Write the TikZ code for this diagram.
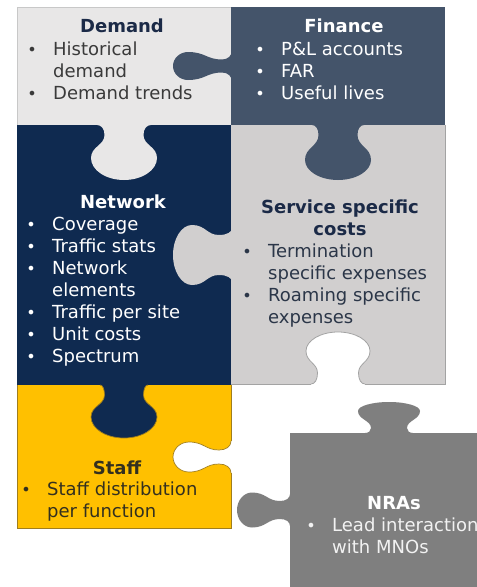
\documentclass[tikz,border=0pt]{standalone}
\usepackage{fontspec}
\setmainfont{DejaVu Sans}
\definecolor{demandc}{HTML}{E8E7E7}
\definecolor{financec}{HTML}{44546A}
\definecolor{networkc}{HTML}{0F2A50}
\definecolor{servicec}{HTML}{D1CFCF}
\definecolor{staffc}{HTML}{FFC000}
\definecolor{nrac}{HTML}{7F7F7F}
\definecolor{navytxt}{HTML}{1B2A47}
\definecolor{graytxt}{HTML}{3A3A3A}
\definecolor{servtxt}{HTML}{2B3648}
\definecolor{stafftxt}{HTML}{33301F}
\definecolor{staffline}{HTML}{A07E1E}
\definecolor{servline}{HTML}{A3A3A3}
\definecolor{gridline}{HTML}{C8C8C8}
\newcommand\bul{\llap{\makebox[0pt][c]{\fontsize{16}{16}\selectfont •}\hspace{21pt}}}
% knob curve: #1 flare half, #2 neck half, #3 neck depth, #4 bulb half, #5 widest depth, #6 total depth
\newcommand\kcurve[6]{(-#1,0) .. controls ({-#1+0.6*(#1-#2)},0) and (-#2,{0.4*#3}) .. (-#2,#3) .. controls (-#2,{#3+0.45*(#5-#3)}) and (-#4,{#5-0.5*(#5-#3)}) .. (-#4,#5) .. controls (-#4,{#5+0.55*(#6-#5)}) and ({-0.55*#4},#6) .. (0,#6) .. controls ({0.55*#4},#6) and (#4,{#5+0.55*(#6-#5)}) .. (#4,#5) .. controls (#4,{#5-0.5*(#5-#3)}) and (#2,{#3+0.45*(#5-#3)}) .. (#2,#3) .. controls (#2,{0.4*#3}) and ({#1-0.6*(#1-#2)},0) .. (#1,0)}
\newcommand\knob[9]{\begin{scope}[shift={#2},#3]
  \fill[#1] (-#4,-1.5) rectangle (#4,0);
  \fill[#1] \kcurve{#4}{#5}{#6}{#7}{#8}{#9} -- cycle;
  \end{scope}}
\newcommand\knobline[9]{\begin{scope}[shift={#2},#3]
  \draw[#1] \kcurve{#4}{#5}{#6}{#7}{#8}{#9};
  \end{scope}}
\begin{document}
\begin{tikzpicture}[x=1pt,y=-1pt,
  odown/.style={x={(1pt,0pt)},y={(0pt,-1pt)}},
  oleft/.style={x={(0pt,1pt)},y={(-1pt,0pt)}},
  oup/.style={x={(1pt,0pt)},y={(0pt,1pt)}},
  title/.style={font=\fontsize{18}{22}\selectfont\bfseries, inner sep=0pt, anchor=base},
  items/.style={font=\fontsize{18}{22}\selectfont, inner sep=0pt, anchor=base west},
]
\useasboundingbox (0,0) rectangle (477,587);
\fill[white] (0,0) rectangle (477,587);
% pieces
\fill[demandc] (17,7) rectangle (231,125);
\fill[financec] (231,7) rectangle (445,125);
\fill[networkc] (17,125) rectangle (231,385);
\fill[servicec] (231,125) rectangle (445,384);
\fill[staffc] (17,385) rectangle (231,528);
\draw[gridline, line width=0.6pt] (17,125) -- (17,7) -- (231,7);
\draw[servline, line width=0.8pt] (445,125) -- (445,384) -- (231,384);
\draw[staffline, line width=0.7pt] (231,385) -- (231,528) -- (17,528) -- (17,385);
% tabs and blanks
\knob{demandc}{(124,125)}{odown}{27}{19.5}{10}{33}{33}{55}
\knob{financec}{(232,66)}{oleft}{16}{6.5}{10}{14}{44}{59}
\knob{financec}{(338,125)}{odown}{26}{19.5}{10}{33}{35}{55}
\knob{servicec}{(232,255)}{oleft}{27}{20}{13}{30}{40}{59}
\knob{white}{(338,384)}{oup}{27}{20.5}{11}{32}{33}{52}
\knobline{servline, line width=0.8pt}{(338,384)}{oup}{27}{20.5}{11}{32}{33}{52}
\knob{networkc}{(124,385)}{odown}{24}{19.5}{10}{33}{32}{53}
\knobline{staffline, line width=0.7pt}{(124,385)}{odown}{24}{19.5}{10}{33}{32}{53}
\knob{white}{(231,457)}{oleft}{16}{7}{12}{15}{42}{58}
\knobline{staffline, line width=0.7pt}{(231,457)}{oleft}{16}{7}{12}{15}{42}{58}
% NRA piece
\begin{scope}
\clip (0,0) rectangle (477,587);
\fill[nrac] (290,433) rectangle (480,590);
\knob{nrac}{(389,433)}{oup}{24}{18}{5}{31}{22}{31}
\knob{nrac}{(290,510)}{oleft}{16}{9}{10}{17.5}{38}{53}
\node[title, text=white] (nraT) at (394,509) {NRAs};
\node[items, text=white!95!black] (nraL) at (332,531) {\begin{tabular}[t]{@{}l@{}}\bul Lead interaction\\ with MNOs\end{tabular}};
\end{scope}
% texts
\node[title, text=navytxt] (demandT) at (122,32) {Demand};
\node[items, text=graytxt] (demandL) at (53,55) {\begin{tabular}[t]{@{}l@{}}\bul Historical\\ demand\\ \bul Demand trends\end{tabular}};
\node[title, text=white] (financeT) at (344,32) {Finance};
\node[items, text=white] (financeL) at (281,55) {\begin{tabular}[t]{@{}l@{}}\bul P\&L accounts\\ \bul FAR\\ \bul Useful lives\end{tabular}};
\node[title, text=white] (networkT) at (123,208) {Network};
\node[items, text=white] (networkL) at (52,230) {\begin{tabular}[t]{@{}l@{}}\bul Coverage\\ \bul Traffic stats\\ \bul Network\\ elements\\ \bul Traffic per site\\ \bul Unit costs\\ \bul Spectrum\end{tabular}};
\node[title, text=navytxt] (serviceT) at (340,213) {\begin{tabular}[t]{@{}c@{}}Service specific\\ costs\end{tabular}};
\node[items, text=servtxt] (serviceL) at (268,257) {\begin{tabular}[t]{@{}l@{}}\bul Termination\\ specific expenses\\ \bul Roaming specific\\ expenses\end{tabular}};
\node[title, text=stafftxt] (staffT) at (117,474) {Staff};
\node[items, text=stafftxt] (staffL) at (47,495) {\begin{tabular}[t]{@{}l@{}}\bul Staff distribution\\ per function\end{tabular}};
\end{tikzpicture}
\end{document}
